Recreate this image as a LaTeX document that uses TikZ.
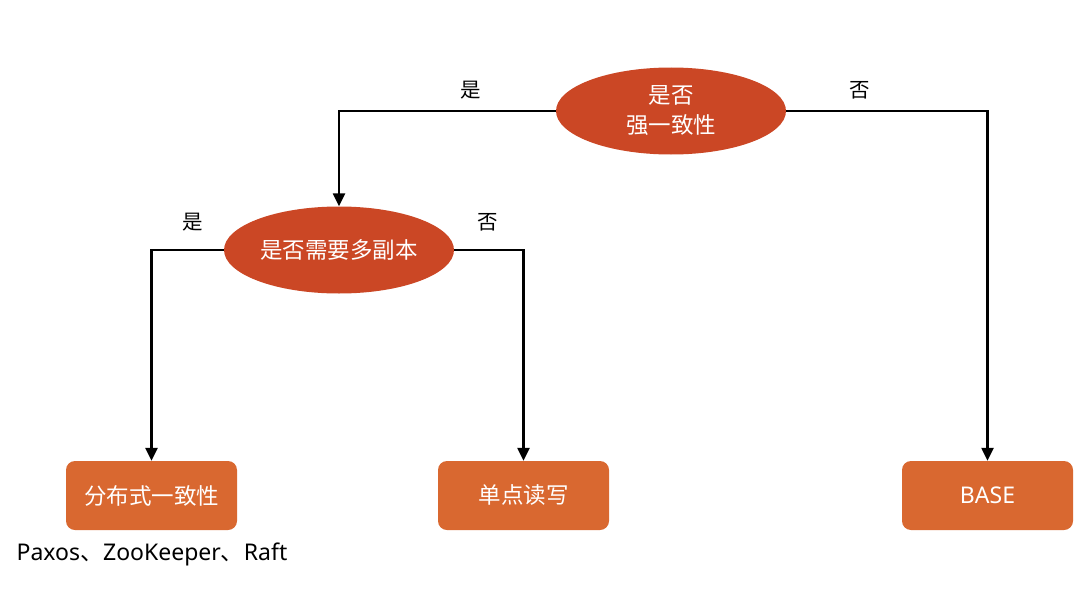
\documentclass[tikz,border=0pt]{standalone}
\usepackage{fontspec}
\setmainfont{Noto Sans CJK SC}
\newfontfamily\lat{Noto Sans}
\usetikzlibrary{shapes.geometric,arrows.meta}
\definecolor{ellred}{HTML}{CB4725}
\definecolor{boxor}{HTML}{D96830}
\begin{document}
\begin{tikzpicture}[x=1pt,y=-1pt,
  dec/.style={ellipse,fill=ellred,text=white,minimum width=230pt,minimum height=87pt,inner sep=0pt,font=\fontsize{22.5}{30}\selectfont,align=center},
  res/.style={rectangle,rounded corners=9pt,fill=boxor,text=white,minimum width=171pt,minimum height=69pt,inner sep=0pt,font=\fontsize{22.5}{26}\selectfont},
  conn/.style={line width=2.4pt,-{Triangle[width=12pt,length=13pt]}},
  lbl/.style={font=\fontsize{20.5}{24}\selectfont,text=black}]
\useasboundingbox (0,0) rectangle (1089,610);
\node[dec] (q1) at (671,111) {是否\\强一致性};
\node[dec] (q2) at (339,250) {是否需要多副本};
\node[res] (r1) at (151.5,495.5) {分布式一致性};
\node[res] (r2) at (523.5,495.5) {单点读写};
\node[res,font=\lat\fontsize{23}{26}\selectfont] (r3) at (987.5,495.5) {BASE};
\draw[conn] (q1.west) -| (q2.north);
\draw[conn] (q1.east) -| (r3.north);
\draw[conn] (q2.west) -| (r1.north);
\draw[conn] (q2.east) -| (r2.north);
\node[lbl] (l1) at (471,90) {是};
\node[lbl] (l2) at (860,90) {否};
\node[lbl] (l3) at (193,222) {是};
\node[lbl] (l4) at (488,222) {否};
\node[font=\fontsize{23}{26}\selectfont] (ex) at (152,554) {{\lat Paxos}、{\lat ZooKeeper}、{\lat Raft}};
\end{tikzpicture}
\end{document}
